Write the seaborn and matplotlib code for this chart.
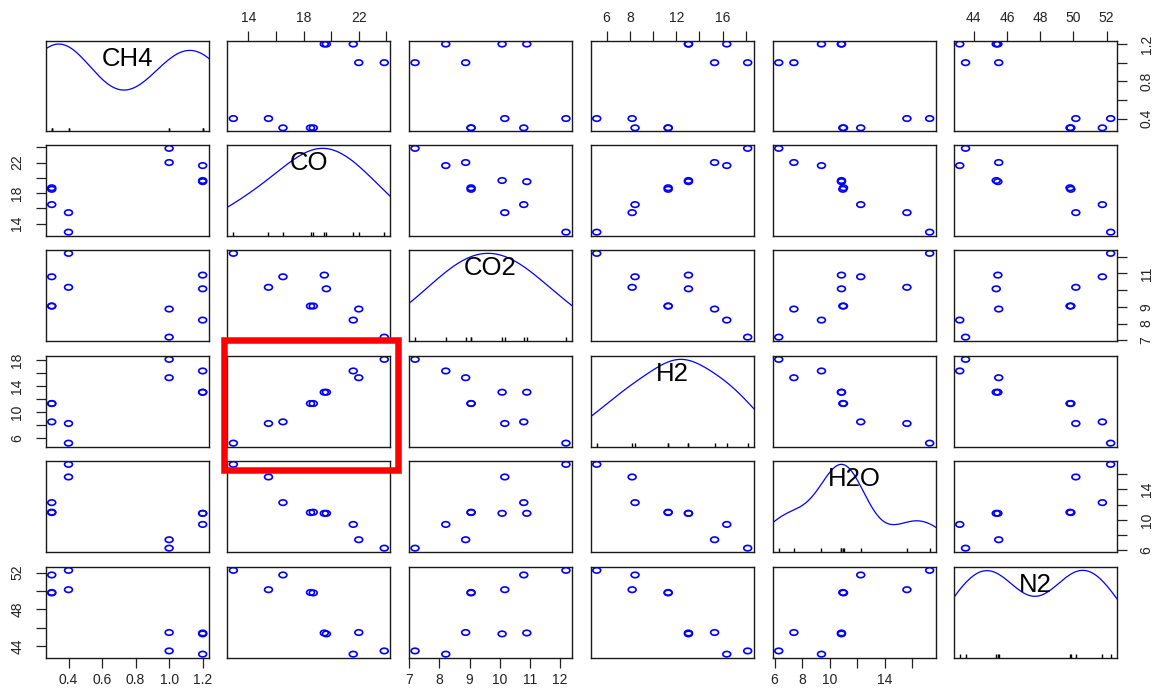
import numpy as np
import pandas as pd
import matplotlib
matplotlib.use("Agg")
import matplotlib.pyplot as plt
import seaborn as sns
from matplotlib.path import Path
from matplotlib.patches import Rectangle

# ---------------- data ----------------
variables = ["CH4", "CO", "CO2", "H2", "H2O", "N2"]
CH4 = [0.4, 0.4, 0.3, 0.3, 0.3, 1.2, 1.2, 1.2, 1.0, 1.0]
CO = [12.9, 15.45, 16.5, 18.5, 18.7, 19.5, 19.65, 21.6, 22.0, 23.85]
CO2 = [12.2, 10.17, 10.8, 9.05, 9.05, 10.9, 10.08, 8.21, 8.87, 7.19]
H2 = [5.15, 8.2, 8.45, 11.3, 11.3, 13.05, 13.05, 16.35, 15.3, 18.15]
H2O = [17.25, 15.6, 12.25, 10.95, 11.0, 10.85, 10.85, 9.4, 7.4, 6.3]
N2 = [52.25, 50.15, 51.75, 49.85, 49.8, 45.45, 45.35, 43.15, 45.5, 43.5]

# tick positions and which ones carry labels
tick_pos = {
    "CH4": [0.4, 0.6, 0.8, 1.0, 1.2],
    "CO": [14, 16, 18, 20, 22, 24],
    "CO2": [7, 8, 9, 10, 11, 12],
    "H2": [6, 8, 10, 12, 14, 16, 18],
    "H2O": [6, 8, 10, 12, 14, 16],
    "N2": [44, 46, 48, 50, 52],
}
x_labels = {
    "CH4": ["0.4", "0.6", "0.8", "1.0", "1.2"],
    "CO": ["14", "", "18", "", "22", ""],
    "CO2": ["7", "8", "9", "10", "11", "12"],
    "H2": ["6", "8", "", "12", "", "16", ""],
    "H2O": ["6", "8", "10", "", "14", ""],
    "N2": ["44", "46", "48", "50", "52"],
}
y_labels = {
    "CH4": ["0.4", "", "0.8", "", "1.2"],
    "CO": ["14", "", "18", "", "22", ""],
    "CO2": ["7", "8", "9", "", "11", ""],
    "H2": ["6", "", "10", "", "14", "", "18"],
    "H2O": ["6", "", "10", "", "14", ""],
    "N2": ["44", "", "48", "", "52"],
}
# kernel bandwidth (data units) of the diagonal density curves
bandwidth = {"CH4": 0.215, "CO": 2.4, "CO2": 1.3, "H2": 2.2, "H2O": 1.5, "N2": 1.8}

df = pd.DataFrame({"CH4": CH4, "CO": CO, "CO2": CO2, "H2": H2, "H2O": H2O, "N2": N2})

# ---------------- style ----------------
sns.set_theme(style="white")
plt.rcParams["font.family"] = ["Liberation Sans", "DejaVu Sans"]

W, H = 1160, 689
fig = plt.figure(figsize=(W / 100, H / 100), dpi=100)

col_left = [45.7, 227.3, 409.0, 590.7, 772.7, 953.7]
pw = 163.0
row_top = [40.7, 145.0, 250.0, 356.0, 461.0, 567.0]
ph = 90.5

circ = Path.unit_circle()
ell_marker = Path(circ.vertices * np.array([1.0, 0.7]), circ.codes)

tick_col = "#222222"

def lims(v):
    v = np.asarray(v, float)
    r = v.max() - v.min()
    return v.min() - 0.04 * r, v.max() + 0.04 * r

n = len(variables)
for i, vy in enumerate(variables):
    for j, vx in enumerate(variables):
        ax = fig.add_axes([col_left[j] / W, 1 - (row_top[i] + ph) / H, pw / W, ph / H])
        ax.set_facecolor("white")
        for s in ax.spines.values():
            s.set_color("#1a1a1a")
            s.set_linewidth(1.0)
        xl = lims(df[vx])
        if i == j:
            x = df[vx].to_numpy()
            scott = x.std(ddof=1) * len(x) ** (-0.2)
            sns.kdeplot(x=x, ax=ax, color="blue", lw=0.9,
                        bw_adjust=bandwidth[vx] / scott, cut=10, gridsize=400)
            line = ax.lines[-1]
            xd, yd = line.get_xdata(), line.get_ydata()
            m = yd[(xd >= xl[0]) & (xd <= xl[1])].max()
            sns.rugplot(x=x, ax=ax, height=0.035, color="black", lw=1.6,
                        expand_margins=False)
            ax.set_ylim(-0.04 * m, 1.04 * m)
            ax.text(0.5, 0.80, vx, transform=ax.transAxes, ha="center", va="center",
                    fontsize=18.5, color="black")
        else:
            sns.scatterplot(x=df[vx], y=df[vy], ax=ax, marker=ell_marker, s=32,
                            facecolor="none", edgecolor="blue", linewidth=1.2,
                            legend=False)
            ax.set_ylim(*lims(df[vy]))
        ax.set_xlim(*xl)
        ax.set_xlabel("")
        ax.set_ylabel("")

        # axes on outer edges, alternating like R pairs()
        show_bottom = (i == n - 1 and j % 2 == 0)
        show_top = (i == 0 and j % 2 == 1)
        show_left = (j == 0 and i % 2 == 1)
        show_right = (j == n - 1 and i % 2 == 0)

        if show_bottom or show_top:
            ax.set_xticks(tick_pos[vx])
            ax.set_xticklabels(x_labels[vx])
            ax.tick_params(axis="x", which="both", bottom=show_bottom, top=show_top,
                           labelbottom=show_bottom, labeltop=show_top,
                           direction="out", length=7.5, width=0.9, pad=4,
                           labelsize=10, colors=tick_col)
        else:
            ax.set_xticks([])
        if show_left or show_right:
            if i != j:
                ax.set_yticks(tick_pos[vy])
                ax.set_yticklabels(y_labels[vy], rotation=90, va="center")
            ax.tick_params(axis="y", which="both", left=show_left, right=show_right,
                           labelleft=show_left, labelright=show_right,
                           direction="out", length=7.5, width=0.9,
                           pad=(9 if show_right else 8),
                           labelsize=10, colors=tick_col)
        else:
            ax.set_yticks([])

# red highlight rectangle around the H2-vs-CO panel
x0, x1, y0, y1 = 223.5, 398.0, 340.0, 469.5
fig.add_artist(Rectangle((x0 / W, 1 - y1 / H), (x1 - x0) / W, (y1 - y0) / H,
                         transform=fig.transFigure, fill=False, ec="#ff0000", lw=4.7))

fig.savefig("out.png", dpi=100, facecolor="white")
